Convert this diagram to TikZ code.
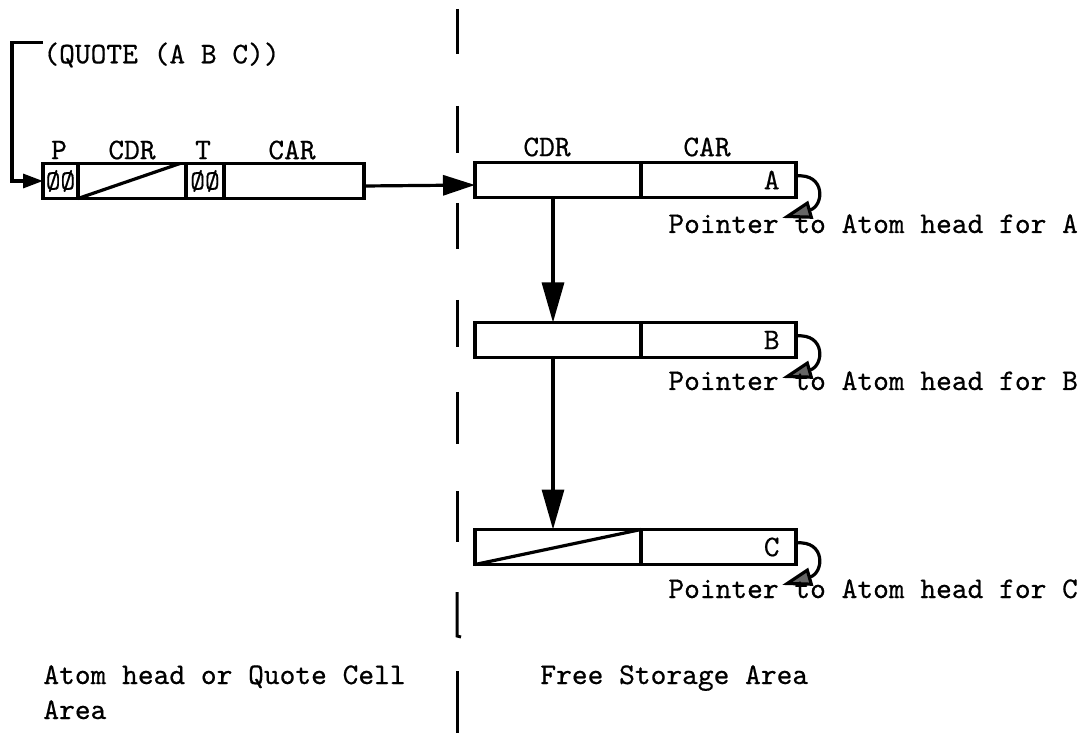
\documentclass[tikz,border=0pt]{standalone}
\usepackage{fontspec}
\usetikzlibrary{arrows.meta,positioning,calc}
\newfontfamily\typefont{lmmono10-regular}[Extension=.otf,FakeBold=0.5]
\newcommand{\typew}{\fontsize{15}{18}\selectfont\typefont}
% curved pointer from a CAR cell to its atom head
\newcommand{\atomptr}[1]{%
  \draw[line width=1.6pt,-{Triangle[length=15pt,width=9pt,fill=black!60]}]
    ([yshift=2pt]#1.east) coordinate (#1p)
    .. controls ($(#1p)+(30,-3)$) and ($(#1p)+(28,30)$) .. ($(#1p)+(-14,42)$);}

\begin{document}
\begin{tikzpicture}[x=0.5pt,y=-0.5pt,
    cell/.style={draw,line width=1.6pt,inner sep=0pt,outer sep=0pt,minimum height=17.5pt},
    zz/.style={font=\fontsize{14}{14}\selectfont\typefont},
    txt/.style={font=\typew,inner sep=0pt},
    link/.style={line width=1.6pt,-{Triangle[length=16pt,width=10pt]}},
    down/.style={line width=1.6pt,-{Triangle[length=20pt,width=11pt]}}]
  \useasboundingbox (0,0) rectangle (1089,733);

  % quote cell
  \node[txt,anchor=west] (quote) at (43,55) {(QUOTE (A B C))};
  \node[cell,zz,minimum width=17.5pt,anchor=west] (qp) at (43,181) {ØØ};
  \node[cell,minimum width=54pt,right=0pt of qp] (qcdr) {};
  \node[cell,zz,minimum width=19pt,right=0pt of qcdr] (qt) {ØØ};
  \node[cell,minimum width=70pt,right=0pt of qt] (qcar) {};
  \node[txt] (hp) at (59,150) {P};
  \node[txt] (hcdr) at (132,150) {CDR};
  \node[txt] (ht) at (203,150) {T};
  \node[txt] (hcar) at (292,150) {CAR};
  \draw[line width=1.6pt] (qcdr.south west) -- ([xshift=-3pt]qcdr.north east);
  \draw[line width=1.6pt,-{Triangle[length=10pt,width=7pt]}]
        (quote.north west) -- ++(-31,0) |- (qp.west);

  % free storage cells
  \node[cell,minimum width=83pt,anchor=west] (cdrA) at (475,180) {};
  \node[cell,minimum width=77.5pt,right=0pt of cdrA] (carA) {};
  \node[cell,minimum width=83pt,anchor=west] (cdrB) at (475,340) {};
  \node[cell,minimum width=77.5pt,right=0pt of cdrB] (carB) {};
  \node[cell,minimum width=83pt,anchor=west] (cdrC) at (475,547) {};
  \node[cell,minimum width=77.5pt,right=0pt of cdrC] (carC) {};
  \node[txt] (hcdr2) at (547,147) {CDR};
  \node[txt] (hcar2) at (707,147) {CAR};
  \node[txt,anchor=east] (la) at ([xshift=-8pt]carA.east) {A};
  \node[txt,anchor=east] (lb) at ([xshift=-8pt]carB.east) {B};
  \node[txt,anchor=east] (lc) at ([xshift=-8pt]carC.east) {C};
  \draw[line width=1.6pt] (cdrC.south west) -- (cdrC.north east);

  \draw[link] ([yshift=-2.5pt]qcar.east) -- ([yshift=-2.5pt]cdrA.west);
  \draw[down] ([xshift=-2.5pt]cdrA.south) -- ([xshift=-2.5pt]cdrB.north);
  \draw[down] ([xshift=-2.5pt]cdrB.south) -- ([xshift=-2.5pt]cdrC.north);

  \atomptr{carA}
  \atomptr{carB}
  \atomptr{carC}
  \node[txt,anchor=base west] (ta) at (668,233) {Pointer to Atom head for A};
  \node[txt,anchor=base west] (tb) at (668,390) {Pointer to Atom head for B};
  \node[txt,anchor=base west] (tc) at (668,598) {Pointer to Atom head for C};

  % divider between the two areas
  \foreach \a/\b in {9/54,106/153,203/249,300/347,392/444,491/542,671/733}
    \draw[line width=1.5pt] (457,\a) -- (457,\b);
  \draw[line width=1.5pt] (457,592) -- (457,636) -- (461,637);

  \node[txt,anchor=base west] (areal) at (43,684) {Atom head or Quote Cell};
  \node[txt,anchor=base west] (areal2) at (43,719) {Area};
  \node[txt,anchor=base west] (arear) at (540,684) {Free Storage Area};
\end{tikzpicture}
\end{document}
